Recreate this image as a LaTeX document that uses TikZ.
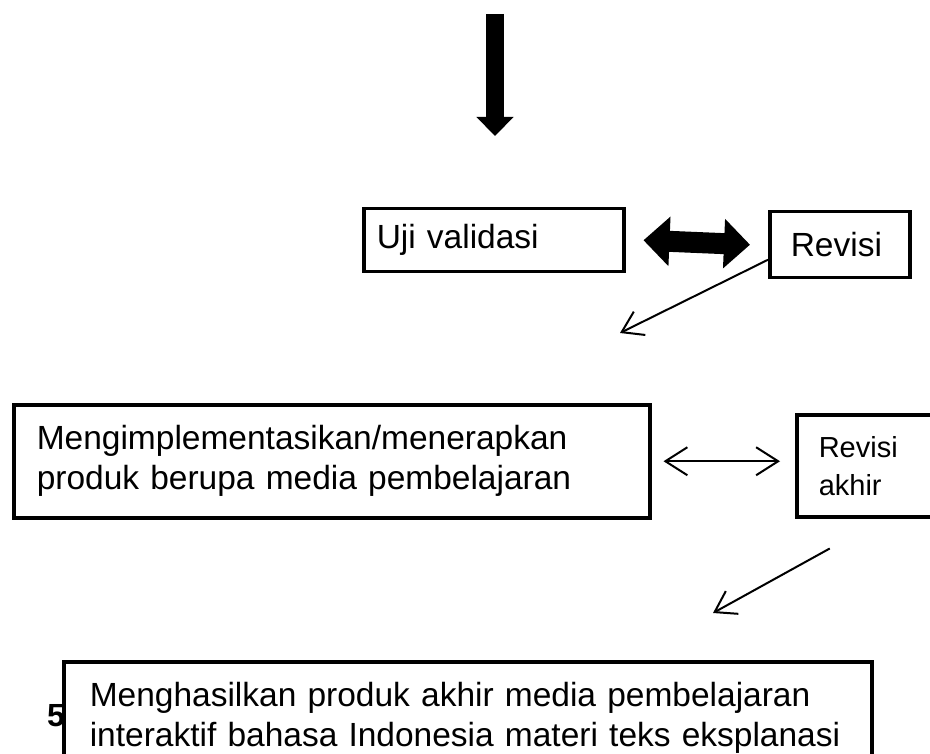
\documentclass[tikz,border=0pt]{standalone}
\usepackage{fontspec}
\setmainfont{Liberation Sans}
\usetikzlibrary{arrows.meta}

\begin{document}
\begin{tikzpicture}[x=1pt,y=-1pt,
		box/.style={draw, line width=3.5pt, fill=white, anchor=north west, align=left, inner ysep=0pt},
		big/.style={font=\fontsize{33.5}{40}\selectfont},
		small/.style={font=\fontsize{29}{38}\selectfont},
		fat/.style={line width=21pt, {Triangle[length=26pt,width=48pt]}-{Triangle[length=26pt,width=48pt]}},
		barb/.style={line width=2pt, -{Straight Barb[length=20pt,width=26pt]}},
		dbarb/.style={line width=2pt, {Straight Barb[length=22pt,width=28pt]}-{Straight Barb[length=22pt,width=28pt]}}]
		\useasboundingbox (0,0) rectangle (930,754);
		\clip (0,0) rectangle (930,754);

		% arrow coming from above
		\coordinate (top) at (495,14);
		\coordinate (tip) at (495,136);
		\draw[line width=18pt, -{Triangle[length=19pt,width=36pt]}] (top) -- (tip);

		% validation and revision
		\node[box, big, minimum width=260pt, minimum height=63pt, inner xsep=13pt, text width=234pt] (uji) at (362,207) {Uji validasi};
		\node[box, big, minimum width=140pt, minimum height=66pt, inner xsep=21pt, text width=98pt] (revisi) at (768,210) {Revisi};
		\draw[fat] ([xshift=18pt]uji.east) -- ([xshift=-18pt]revisi.west);
		\coordinate (a1) at (620,333);
		\draw[barb] ([yshift=-15pt]revisi.west) -- (a1);

		% implementation and final revision
		\node[box, big, minimum width=636pt, minimum height=113pt, inner xsep=23pt, text width=590pt] (terap) at (12,403)
			{Mengimplementasikan/menerapkan\\produk berupa media pembelajaran};
		\node[box, small, minimum width=150pt, minimum height=102pt, inner xsep=22pt, text width=106pt] (akhir) at (795,413) {Revisi\\akhir};
		\draw[dbarb] ([xshift=12pt]terap.east) -- ([xshift=-15pt]akhir.west |- terap.east);
		\coordinate (a2) at (713,613);
		\draw[barb] ([shift={(-42pt,-30pt)}]akhir.south) -- (a2);

		% final product
		\node[font=\fontsize{32}{40}\selectfont\bfseries, anchor=west, inner sep=0pt] (nomor) at (47,716) {5};
		\node[box, big, minimum width=808pt, minimum height=112pt, inner xsep=26pt, text width=756pt] (hasil) at (62,660)
			{Menghasilkan produk akhir media pembelajaran\\interaktif bahasa Indonesia materi teks eksplanasi};
	\end{tikzpicture}
\end{document}
